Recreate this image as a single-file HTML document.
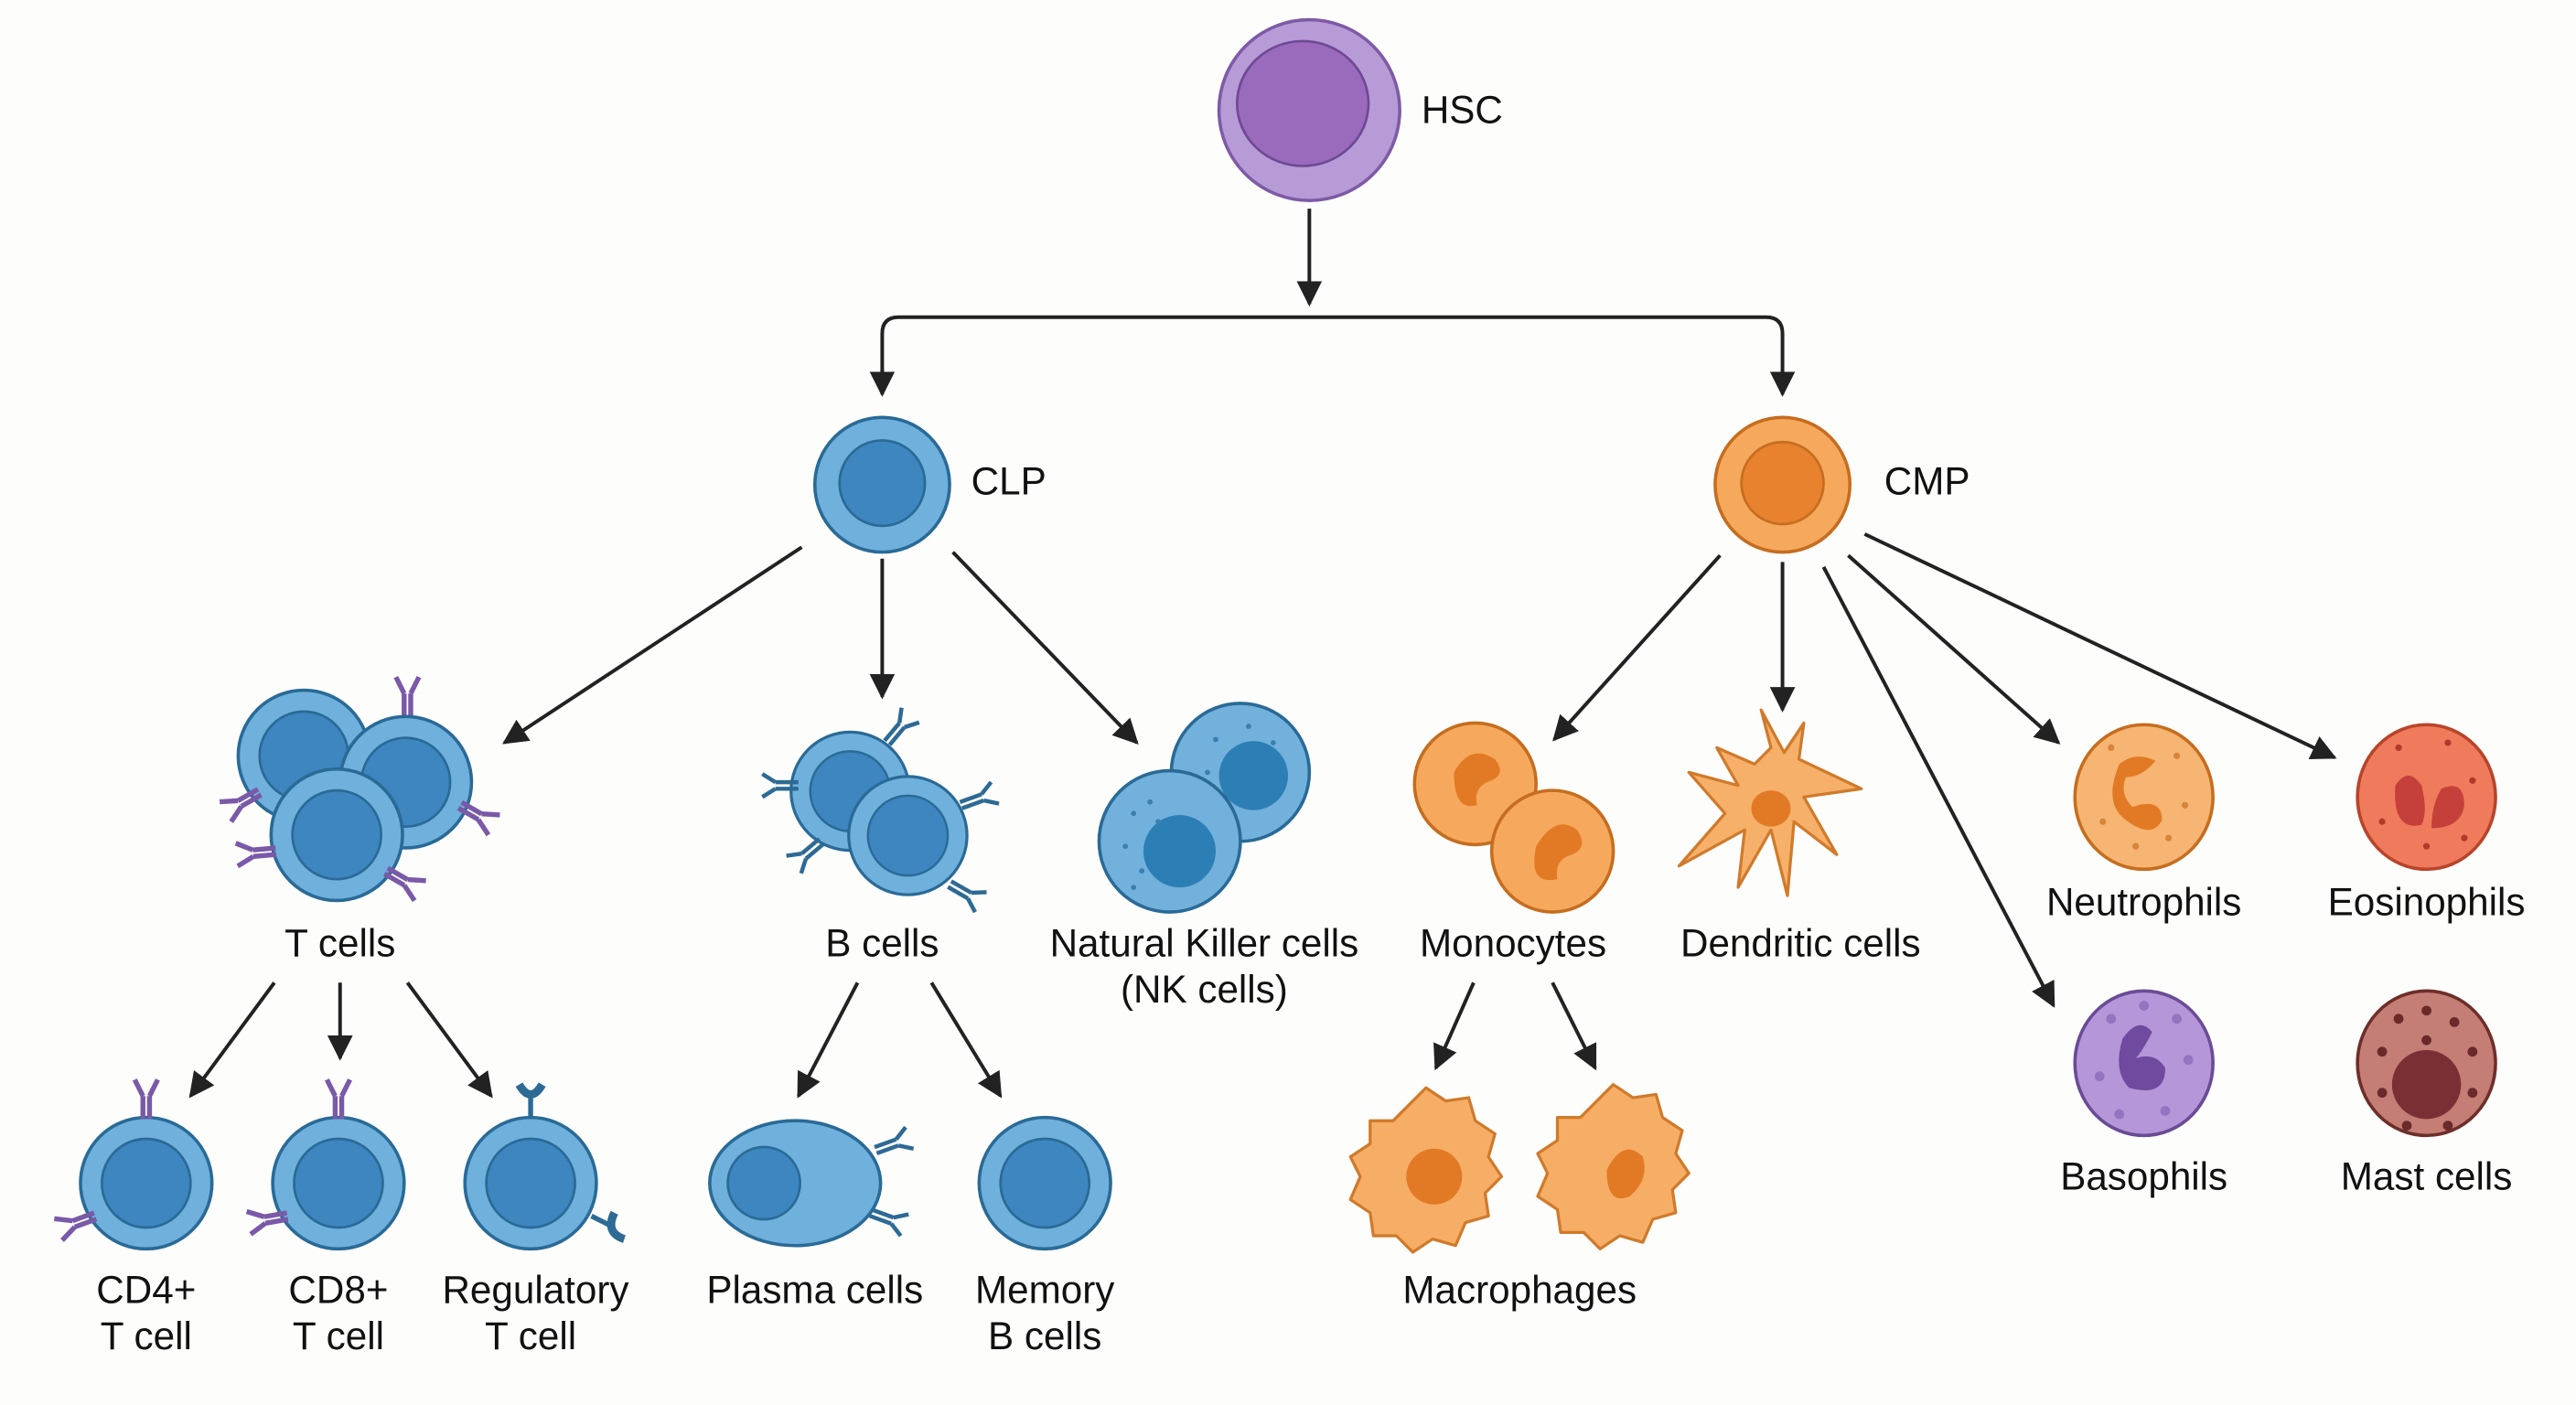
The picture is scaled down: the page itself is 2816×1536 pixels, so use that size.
<!DOCTYPE html>
<html><head><meta charset="utf-8"><style>
html,body{margin:0;padding:0;background:#fdfdfc;}
svg{display:block}
text{font-family:"Liberation Sans",sans-serif;font-size:23.5px;fill:#111;text-anchor:middle}
</style></head><body>
<svg width="2816" height="1536" viewBox="0 0 1568 855" preserveAspectRatio="none" xmlns="http://www.w3.org/2000/svg">
<defs>
<marker id="a" viewBox="0 0 10 10" refX="9" refY="5" markerWidth="7" markerHeight="7" orient="auto"><path d="M0,0 L10,5 L0,10 Z" fill="#222"/></marker>
<g id="bc"><circle r="40" fill="#6fb0dc" stroke="#2a6a96" stroke-width="2"/><circle r="27" fill="#3d86bf" stroke="#2a6a96" stroke-width="1.5"/></g>
<g id="y"><path d="M-2,0 V-14 M2,0 V-14 M-2,-14 L-7,-24 M2,-14 L7,-24" stroke="#7a59a8" stroke-width="3" fill="none"/></g>
<g id="yb"><path d="M-2,0 V-14 M2,0 V-14 M-2,-14 L-7,-22 M2,-14 L7,-22" stroke="#2d6a95" stroke-width="2.5" fill="none"/></g>
</defs>
<rect width="1568" height="855" fill="#fdfdfc"/>
<!-- HSC -->
<circle cx="797" cy="67" r="55" fill="#b79bd6" stroke="#7e5aa6" stroke-width="2"/>
<ellipse cx="793" cy="63" rx="40" ry="38" fill="#9a6bbd" stroke="#6e4994" stroke-width="1.5"/>
<text x="890" y="75" font-size="22">HSC</text>
<g stroke="#222" stroke-width="2.2" fill="none">
<path d="M797,127 V185" marker-end="url(#a)"/>
<path d="M537,238 V203 Q537,193 547,193 H1075 Q1085,193 1085,203 V238" />
<path d="M537,225 V240" marker-end="url(#a)"/>
<path d="M1085,225 V240" marker-end="url(#a)"/>
<path d="M488,333 L307,452" marker-end="url(#a)"/>
<path d="M537,340 V424" marker-end="url(#a)"/>
<path d="M580,336 L692,452" marker-end="url(#a)"/>
<path d="M1047,338 L946,450" marker-end="url(#a)"/>
<path d="M1085,342 V432" marker-end="url(#a)"/>
<path d="M1110,345 L1250,612" marker-end="url(#a)"/>
<path d="M1125,338 L1253,452" marker-end="url(#a)"/>
<path d="M1135,325 L1421,461" marker-end="url(#a)"/>
<path d="M167,598 L116,667" marker-end="url(#a)"/>
<path d="M207,598 V644" marker-end="url(#a)"/>
<path d="M248,598 L299,667" marker-end="url(#a)"/>
<path d="M522,598 L486,667" marker-end="url(#a)"/>
<path d="M567,598 L609,667" marker-end="url(#a)"/>
<path d="M897,598 L874,650" marker-end="url(#a)"/>
<path d="M945,598 L971,650" marker-end="url(#a)"/>
</g>
<!-- CLP / CMP -->
<circle cx="537" cy="295" r="41" fill="#6fb0dc" stroke="#2a6a96" stroke-width="2"/>
<circle cx="537" cy="294" r="26" fill="#3d86bf" stroke="#2a6a96" stroke-width="1.5"/>
<text x="614" y="301" font-size="22">CLP</text>
<circle cx="1085" cy="295" r="41" fill="#f6a95c" stroke="#c66d1f" stroke-width="2"/>
<circle cx="1085" cy="294" r="25" fill="#e8822e" stroke="#c66d1f" stroke-width="1.5"/>
<text x="1173" y="301" font-size="22">CMP</text>
<!-- T cells -->
<use href="#bc" x="185" y="460"/>
<use href="#y" x="248" y="436"/>
<use href="#bc" x="247" y="476"/>
<use href="#bc" x="205" y="508"/>
<use href="#y" transform="translate(158,482) rotate(-120)"/>
<use href="#y" transform="translate(280,490) rotate(120)"/>
<use href="#y" transform="translate(168,518) rotate(-95)"/>
<use href="#y" transform="translate(235,530) rotate(120)"/>
<text x="207" y="582">T cells</text>
<!-- B cells -->
<g transform="scale(0.9) translate(57,53)"><use href="#bc" x="518" y="482"/><use href="#bc" x="557" y="512"/></g>
<use href="#yb" transform="translate(540,452) rotate(40)"/>
<use href="#yb" transform="translate(486,478) rotate(-90)"/>
<use href="#yb" transform="translate(500,512) rotate(-130)"/>
<use href="#yb" transform="translate(585,490) rotate(70)"/>
<use href="#yb" transform="translate(578,538) rotate(120)"/>
<text x="537" y="582">B cells</text>
<!-- NK -->
<circle cx="755" cy="470" r="42" fill="#72b1dc" stroke="#2a6a96" stroke-width="2"/>
<circle cx="763" cy="472" r="21" fill="#2c7fb5"/>
<circle cx="712" cy="512" r="43" fill="#72b1dc" stroke="#2a6a96" stroke-width="2"/>
<circle cx="718" cy="518" r="22" fill="#2c7fb5"/>
<g fill="#3c7fae"><circle cx="690" cy="495" r="1.6"/><circle cx="700" cy="488" r="1.6"/><circle cx="685" cy="515" r="1.6"/><circle cx="695" cy="530" r="1.6"/><circle cx="705" cy="500" r="1.6"/><circle cx="740" cy="450" r="1.6"/><circle cx="760" cy="442" r="1.6"/><circle cx="775" cy="452" r="1.6"/><circle cx="735" cy="470" r="1.6"/><circle cx="690" cy="540" r="1.6"/></g>
<text x="733" y="582">Natural Killer cells</text>
<text x="733" y="610">(NK cells)</text>
<!-- Monocytes -->
<circle cx="898" cy="477" r="37" fill="#f6a95c" stroke="#c66d1f" stroke-width="2"/>
<path d="M885,470 q10,-18 25,-8 q8,10 -5,14 q-8,4 -6,14 q-14,4 -14,-20z" fill="#e27a25"/>
<circle cx="945" cy="518" r="37" fill="#f6a95c" stroke="#c66d1f" stroke-width="2"/>
<path d="M935,515 q12,-20 25,-10 q8,12 -6,16 q-8,4 -6,14 q-18,4 -13,-20z" fill="#e27a25"/>
<text x="921" y="582">Monocytes</text>
<!-- Dendritic -->
<path d="M1078,455 L1072,432 L1086,458 L1098,440 L1095,462 L1133,480 L1098,485 L1118,520 L1092,500 L1088,545 L1078,505 L1058,540 L1062,505 L1022,527 L1050,495 L1028,470 L1058,478 L1045,455 L1068,465z" fill="#f6b06a" stroke="#d07a2a" stroke-width="1.8" stroke-linejoin="round"/>
<ellipse cx="1078" cy="492" rx="12" ry="11" fill="#e27a25"/>
<text x="1096" y="582">Dendritic cells</text>
<!-- granulocytes -->
<ellipse cx="1305" cy="485" rx="42" ry="44" fill="#f6b572" stroke="#c66d1f" stroke-width="2"/>
<path d="M1290,465 q10,-8 22,-2 q-8,10 -18,10 q-4,10 4,18 q18,-6 18,8 q-6,12 -22,0 q-14,-10 -4,-34z" fill="#e27a25"/>
<g fill="#d8843c"><circle cx="1285" cy="455" r="2"/><circle cx="1325" cy="460" r="2"/><circle cx="1330" cy="490" r="2"/><circle cx="1280" cy="500" r="2"/><circle cx="1300" cy="515" r="2"/><circle cx="1320" cy="510" r="2"/></g>
<text x="1305" y="557">Neutrophils</text>
<ellipse cx="1477" cy="485" rx="42" ry="44" fill="#f07b5c" stroke="#b8442a" stroke-width="2"/>
<path d="M1458,478 q8,-12 16,0 q4,16 0,24 q-18,4 -16,-24z M1486,480 q14,-6 14,10 q-2,14 -20,14 q0,-14 6,-24z" fill="#c5403a"/>
<g fill="#b03a2a"><circle cx="1460" cy="455" r="2"/><circle cx="1490" cy="452" r="2"/><circle cx="1505" cy="475" r="2"/><circle cx="1450" cy="500" r="2"/><circle cx="1477" cy="515" r="2"/><circle cx="1500" cy="510" r="2"/></g>
<text x="1477" y="557">Eosinophils</text>
<ellipse cx="1305" cy="647" rx="42" ry="44" fill="#b596d8" stroke="#6a4b95" stroke-width="2"/>
<path d="M1292,632 q10,-14 18,-4 q-6,12 -10,16 q12,-4 18,6 q0,18 -22,12 q-10,-10 -4,-30z" fill="#6f4a9e"/>
<g fill="#9274c0"><circle cx="1285" cy="620" r="3"/><circle cx="1325" cy="620" r="3"/><circle cx="1332" cy="645" r="3"/><circle cx="1278" cy="655" r="3"/><circle cx="1290" cy="678" r="3"/><circle cx="1318" cy="676" r="3"/><circle cx="1305" cy="612" r="3"/></g>
<text x="1305" y="724">Basophils</text>
<ellipse cx="1477" cy="647" rx="42" ry="44" fill="#c47e75" stroke="#6e2e2a" stroke-width="2"/>
<circle cx="1477" cy="660" r="21" fill="#7a2f35"/>
<g fill="#6a2a2a"><circle cx="1460" cy="620" r="3"/><circle cx="1477" cy="615" r="3"/><circle cx="1494" cy="622" r="3"/><circle cx="1450" cy="640" r="3"/><circle cx="1505" cy="640" r="3"/><circle cx="1450" cy="665" r="3"/><circle cx="1505" cy="665" r="3"/><circle cx="1465" cy="685" r="3"/><circle cx="1490" cy="685" r="3"/><circle cx="1477" cy="633" r="3"/></g>
<text x="1477" y="724">Mast cells</text>
<!-- lower T -->
<use href="#bc" x="89" y="720"/><use href="#y" x="89" y="681"/>
<use href="#y" transform="translate(58,740) rotate(-110)"/>
<text x="89" y="793">CD4+</text><text x="89" y="821">T cell</text>
<use href="#bc" x="206" y="720"/><use href="#y" x="206" y="681"/>
<use href="#y" transform="translate(175,740) rotate(-100)"/>
<text x="206" y="793">CD8+</text><text x="206" y="821">T cell</text>
<use href="#bc" x="323" y="720"/>
<path d="M316,660 q7,12 14,0" stroke="#2d6a95" stroke-width="5" fill="none"/><path d="M323,668 V681" stroke="#2d6a95" stroke-width="3"/>
<path d="M360,740 L372,746" stroke="#2d6a95" stroke-width="3"/>
<path d="M374,738 q-6,12 6,16" stroke="#2d6a95" stroke-width="5" fill="none"/>
<text x="326" y="793">Regulatory</text><text x="323" y="821">T cell</text>
<!-- plasma/memory -->
<ellipse cx="484" cy="720" rx="52" ry="38" fill="#6fb0dc" stroke="#2a6a96" stroke-width="2"/>
<circle cx="465" cy="720" r="22" fill="#3d86bf" stroke="#2a6a96" stroke-width="1.5"/>
<use href="#yb" transform="translate(533,700) rotate(70)"/>
<use href="#yb" transform="translate(530,738) rotate(110)"/>
<text x="496" y="793">Plasma cells</text>
<use href="#bc" x="636" y="720"/>
<text x="636" y="793">Memory</text><text x="636" y="821">B cells</text>
<!-- macrophages -->
<path d="M868,662 l12,8 14,-2 4,14 12,8 -4,14 8,12 -10,10 2,14 -14,4 -6,14 -14,-4 -12,8 -10,-10 -14,0 -2,-14 -12,-8 6,-14 -6,-12 12,-8 0,-14 14,0z" fill="#f6ae66" stroke="#d07a2a" stroke-width="1.8" stroke-linejoin="round"/>
<circle cx="873" cy="716" r="17" fill="#e27a25"/>
<path d="M982,660 l12,8 14,-2 4,14 12,8 -4,14 8,12 -10,10 2,14 -14,4 -6,14 -14,-4 -12,8 -10,-10 -14,0 -2,-14 -12,-8 6,-14 -6,-12 12,-8 0,-14 14,0z" fill="#f6ae66" stroke="#d07a2a" stroke-width="1.8" stroke-linejoin="round"/>
<path d="M978,712 q10,-20 22,-8 q4,14 -8,24 q-14,6 -14,-16z" fill="#e27a25"/>
<text x="925" y="793">Macrophages</text>
</svg>
</body></html>
